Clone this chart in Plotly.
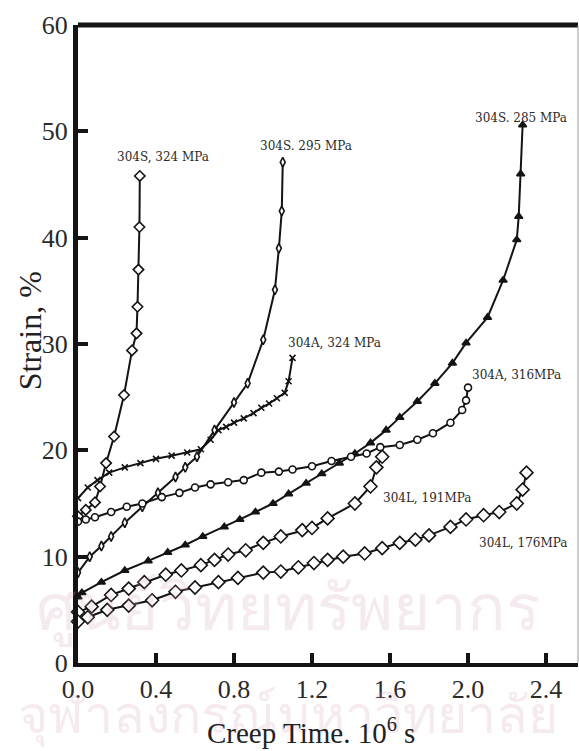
import plotly.graph_objects as go

# Creep curves: time (10^6 s) and strain (%)
s324_time = [0.0, 0.04, 0.087, 0.113, 0.144, 0.185, 0.236, 0.277, 0.30, 0.305, 0.31, 0.315, 0.317]
s324_strain = [13.8, 14.4, 15.1, 16.6, 18.8, 21.3, 25.2, 29.4, 31.0, 33.5, 37.0, 41.0, 45.8]

s295_time = [0.0, 0.06, 0.12, 0.17, 0.24, 0.33, 0.41, 0.50, 0.55, 0.61, 0.70, 0.80, 0.87, 0.95, 1.01, 1.03, 1.045, 1.05]
s295_strain = [8.5, 10.0, 11.0, 11.9, 13.2, 14.7, 16.0, 17.5, 18.4, 19.4, 21.9, 24.5, 26.3, 30.4, 35.1, 39.0, 42.5, 47.1]

s285_time = [0.0, 0.02, 0.12, 0.24, 0.36, 0.46, 0.55, 0.64, 0.75, 0.83, 0.91, 1.0, 1.08, 1.17, 1.25,
             1.34, 1.42, 1.5, 1.58, 1.65, 1.74, 1.83, 1.92, 1.99, 2.1, 2.18, 2.25, 2.26, 2.27, 2.28]
s285_strain = [6.2, 6.6, 7.6, 8.7, 9.6, 10.4, 11.1, 11.9, 12.8, 13.5, 14.2, 15.0, 15.9, 16.9, 17.8,
               18.8, 19.7, 20.7, 21.9, 23.1, 24.6, 26.3, 28.2, 30.1, 32.5, 36.0, 39.8, 42.0, 46.0, 50.6]

a324_time = [0.0, 0.05, 0.1, 0.16, 0.24, 0.32, 0.4, 0.48, 0.56, 0.63, 0.68, 0.72, 0.76, 0.8, 0.85,
             0.9, 0.94, 0.98, 1.02, 1.06, 1.08, 1.10]
a324_strain = [15.5, 16.5, 17.2, 17.9, 18.4, 18.8, 19.2, 19.5, 19.8, 20.1, 21.0, 21.9, 22.2, 22.6, 23.0,
               23.5, 24.0, 24.4, 24.9, 25.4, 26.5, 28.7]

a316_time = [0.0, 0.04, 0.087, 0.17, 0.25, 0.33, 0.43, 0.52, 0.6, 0.68, 0.77, 0.85, 0.94, 1.03, 1.1,
             1.2, 1.3, 1.4, 1.48, 1.55, 1.65, 1.74, 1.82, 1.91, 1.97, 1.99, 2.0]
a316_strain = [13.3, 13.5, 13.7, 14.2, 14.7, 15.0, 15.6, 16.0, 16.5, 16.8, 17.0, 17.2, 17.9, 18.0, 18.2,
               18.5, 19.0, 19.4, 19.7, 20.3, 20.5, 21.0, 21.6, 22.6, 23.8, 24.7, 25.9]

l191_time = [0.0, 0.07, 0.17, 0.26, 0.34, 0.45, 0.53, 0.63, 0.70, 0.77, 0.86, 0.95, 1.04, 1.15, 1.2,
             1.28, 1.42, 1.5, 1.53, 1.56]
l191_strain = [4.8, 5.3, 6.4, 7.0, 7.6, 8.3, 8.7, 9.2, 9.7, 10.2, 10.6, 11.3, 11.9, 12.5, 12.7,
               13.6, 15.0, 16.6, 18.4, 19.4]

l176_time = [0.0, 0.05, 0.15, 0.26, 0.38, 0.5, 0.6, 0.72, 0.82, 0.95, 1.04, 1.13, 1.21, 1.28, 1.36,
             1.47, 1.56, 1.65, 1.73, 1.8, 1.91, 1.99, 2.08, 2.16, 2.25, 2.28, 2.30]
l176_strain = [3.9, 4.3, 5.0, 5.4, 5.9, 6.7, 7.1, 7.6, 8.0, 8.5, 8.6, 9.0, 9.4, 9.7, 10.0,
               10.3, 10.8, 11.3, 11.6, 12.0, 12.8, 13.5, 13.9, 14.2, 15.0, 16.3, 17.9]

curve_labels = ["304S, 324 MPa", "304S. 295 MPa", "304S. 285 MPa", "304A, 324 MPa",
                "304A, 316MPa", "304L, 191MPa", "304L, 176MPa"]
label_x = [0.436, 1.169, 2.272, 1.313, 2.251, 1.79, 2.282]
label_y = [47.6, 48.6, 51.3, 30.1, 27.1, 15.5, 11.3]

x_ticks = [0.0, 0.4, 0.8, 1.2, 1.6, 2.0, 2.4]
x_tick_text = ["0.0", "0.4", "0.8", "1.2", "1.6", "2.0", "2.4"]
y_ticks = [0, 10, 20, 30, 40, 50, 60]
y_tick_text = ["0", "10", "20", "30", "40", "50", "60"]

watermark_lines = ["ศูนย์วิทยทรัพยากร", "จุฬาลงกรณ์มหาวิทยาลัย"]

INK = "#141414"
SERIF = "Liberation Serif, Times New Roman, serif"
WM_COLOR = "rgba(215,160,192,0.22)"

fig = go.Figure()

# Library watermark behind the plot
fig.add_annotation(text=watermark_lines[0], xref="paper", yref="paper",
                   x=0.42, y=0.09, xanchor="center", yanchor="middle", showarrow=False,
                   font=dict(family="Noto Sans, DejaVu Sans", size=64, color=WM_COLOR))
fig.add_annotation(text=watermark_lines[1], xref="paper", yref="paper",
                   x=0.42, y=-0.077, xanchor="center", yanchor="middle", showarrow=False,
                   font=dict(family="Noto Sans, DejaVu Sans", size=52, color=WM_COLOR))

series = [
    (s324_time, s324_strain, "diamond", 8, "white"),
    (s295_time, s295_strain, "diamond-tall", 7, "white"),
    (s285_time, s285_strain, "triangle-up", 7, INK),
    (a324_time, a324_strain, "x-thin", 6, INK),
    (a316_time, a316_strain, "circle", 7, "white"),
    (l191_time, l191_strain, "diamond", 10, "white"),
    (l176_time, l176_strain, "diamond", 10, "white"),
]
for (t, s, sym, size, fill), name in zip(series, curve_labels):
    fig.add_trace(go.Scatter(
        x=t, y=s, mode="lines+markers", name=name,
        line=dict(color=INK, width=2),
        marker=dict(symbol=sym, size=size, color=fill,
                    line=dict(color=INK, width=1.6)),
        showlegend=False, cliponaxis=False))

for text, lx, ly in zip(curve_labels, label_x, label_y):
    fig.add_annotation(x=lx, y=ly, text=text, showarrow=False,
                       font=dict(family="DejaVu Serif", size=12, color="#2a2a2a"))

# Thick top frame and thin right frame
fig.add_shape(type="line", xref="paper", yref="paper", x0=0, x1=1, y0=1, y1=1,
              line=dict(color=INK, width=5))
fig.add_shape(type="line", xref="paper", yref="paper", x0=1, x1=1, y0=0, y1=1,
              line=dict(color="#9a9a9a", width=1))

fig.add_annotation(text="Strain, %", xref="paper", yref="paper", x=-0.096, y=0.52,
                   xanchor="center", yanchor="middle", textangle=-90, showarrow=False,
                   font=dict(family=SERIF, size=32, color="#222"))
fig.add_annotation(text="Creep Time. 10<sup>6</sup> s", xref="paper", yref="paper",
                   x=0.466, y=-0.106, xanchor="center", yanchor="middle", showarrow=False,
                   font=dict(family=SERIF, size=29, color="#222"))

fig.update_xaxes(range=[0, 2.564], tickvals=x_ticks, ticktext=x_tick_text,
                 showline=True, linecolor=INK, linewidth=4, ticks="inside",
                 ticklen=10, tickwidth=4, tickcolor=INK, showgrid=False, zeroline=False,
                 tickfont=dict(family=SERIF, size=26, color="#2a2a2a"))
fig.update_yaxes(range=[0, 60], tickvals=y_ticks, ticktext=y_tick_text,
                 showline=True, linecolor=INK, linewidth=5, ticks="inside",
                 ticklen=10, tickwidth=4, tickcolor=INK, showgrid=False, zeroline=False,
                 tickfont=dict(family=SERIF, size=26, color="#2a2a2a"))

fig.update_layout(width=579, height=751, margin=dict(l=78, r=1, t=25, b=88),
                  paper_bgcolor="white", plot_bgcolor="rgba(0,0,0,0)")

fig.write_html("out.html")
